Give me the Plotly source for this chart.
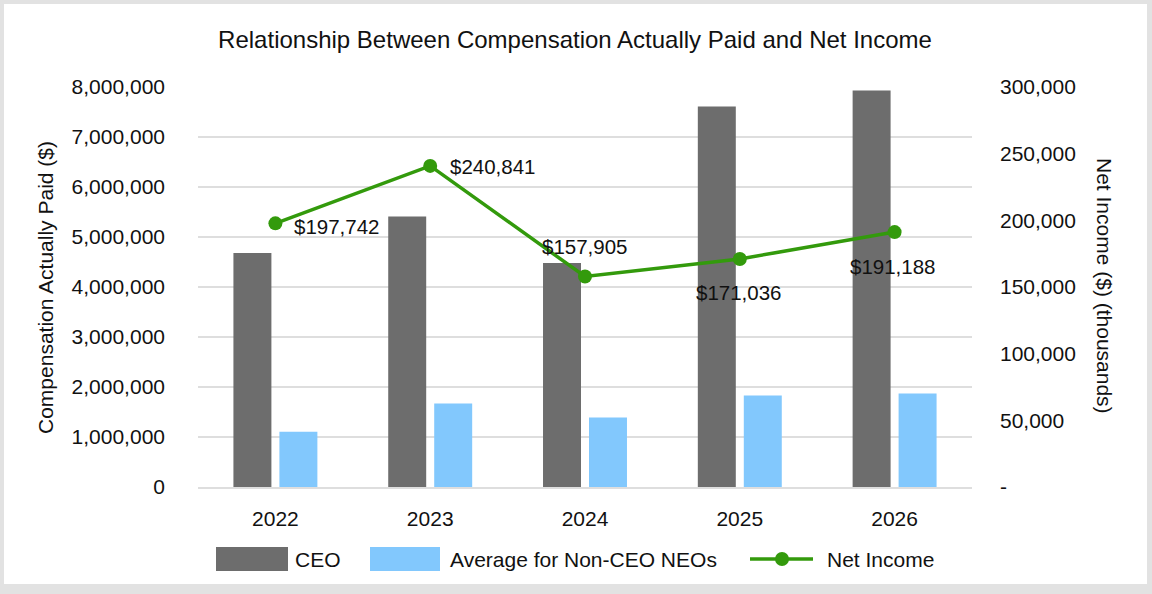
import plotly.graph_objects as go

years = ["2022", "2023", "2024", "2025", "2026"]
ceo_cap = [4680000, 5410000, 4480000, 7610000, 7930000]
neo_avg_cap = [1105000, 1670000, 1390000, 1830000, 1870000]
net_income = [197742, 240841, 157905, 171036, 191188]

left_ticks = [0, 1000000, 2000000, 3000000, 4000000, 5000000, 6000000, 7000000, 8000000]
left_ticktext = ["0", "1,000,000", "2,000,000", "3,000,000", "4,000,000", "5,000,000",
                 "6,000,000", "7,000,000", "8,000,000"]
right_ticks = [0, 50000, 100000, 150000, 200000, 250000, 300000]
right_ticktext = ["-", "50,000", "100,000", "150,000", "200,000", "250,000", "300,000"]

FONT = "Liberation Sans, Arial, Helvetica, sans-serif"
CEO_COLOR = "#6d6d6d"
NEO_COLOR = "#82c8fd"
NI_COLOR = "#339a0c"
GRID = "#dedede"

W, H = 1152, 594
ML, MR, MT, MB = 198, 180, 87, 107
PW, PH = W - ML - MR, H - MT - MB


def px(x):
    return (x - ML) / PW


def py(y):
    return (H - MB - y) / PH


fig = go.Figure()
fig.add_trace(go.Bar(x=years, y=ceo_cap, name="CEO", marker=dict(color=CEO_COLOR, line=dict(width=0)),
                     showlegend=False))
fig.add_trace(go.Bar(x=years, y=neo_avg_cap, name="Average for Non-CEO NEOs",
                     marker=dict(color=NEO_COLOR, line=dict(width=0)), showlegend=False))
fig.add_trace(go.Scatter(x=years, y=net_income, name="Net Income", yaxis="y2", mode="lines+markers",
                         line=dict(color=NI_COLOR, width=3.5), marker=dict(color=NI_COLOR, size=14),
                         showlegend=False))

# data labels (x given as category index)
label_pos = [
    dict(xanchor="left", yanchor="middle", xshift=17, yshift=-3),
    dict(xanchor="left", yanchor="middle", xshift=18, yshift=-1),
    dict(xanchor="center", yanchor="middle", xshift=0, yshift=30),
    dict(xanchor="center", yanchor="middle", xshift=-1, yshift=-34),
    dict(xanchor="center", yanchor="middle", xshift=-2, yshift=-34),
]
annotations = []
for i, (v, p) in enumerate(zip(net_income, label_pos)):
    annotations.append(dict(x=i, y=v, xref="x", yref="y2", text=f"${v:,}", showarrow=False,
                            font=dict(family=FONT, size=20.5, color="#111111"), **p))

# axis titles
annotations.append(dict(x=px(45), y=py(288), xref="paper", yref="paper", text="Compensation Actually Paid ($)",
                        textangle=-90, showarrow=False, xanchor="center", yanchor="middle",
                        font=dict(family=FONT, size=21, color="#111111")))
annotations.append(dict(x=px(1105), y=py(286), xref="paper", yref="paper", text="Net Income ($) (thousands)",
                        textangle=90, showarrow=False, xanchor="center", yanchor="middle",
                        font=dict(family=FONT, size=21, color="#111111")))

# legend (custom, drawn to match the reference's large swatches)
legend_y = 559
annotations += [
    dict(x=px(293), y=py(legend_y), xref="paper", yref="paper", text="CEO", showarrow=False,
         xanchor="left", yanchor="middle", font=dict(family=FONT, size=21, color="#111111")),
    dict(x=px(448), y=py(legend_y), xref="paper", yref="paper", text="Average for Non-CEO NEOs", showarrow=False,
         xanchor="left", yanchor="middle", font=dict(family=FONT, size=21, color="#111111")),
    dict(x=px(825), y=py(legend_y), xref="paper", yref="paper", text="Net Income", showarrow=False,
         xanchor="left", yanchor="middle", font=dict(family=FONT, size=21, color="#111111")),
]

shapes = [
    # outer light-gray frame
    dict(type="rect", xref="paper", yref="paper", x0=px(0), x1=px(W), y0=py(H), y1=py(0),
         line=dict(width=0), fillcolor="#e2e2e2", layer="below"),
    dict(type="rect", xref="paper", yref="paper", x0=px(4), x1=px(1147), y0=py(584), y1=py(4),
         line=dict(width=0), fillcolor="white", layer="below"),
    # legend swatches
    dict(type="rect", xref="paper", yref="paper", x0=px(216), x1=px(288), y0=py(571), y1=py(547),
         line=dict(width=0), fillcolor=CEO_COLOR),
    dict(type="rect", xref="paper", yref="paper", x0=px(370), x1=px(440), y0=py(571), y1=py(547),
         line=dict(width=0), fillcolor=NEO_COLOR),
    dict(type="line", xref="paper", yref="paper", x0=px(750), x1=px(813), y0=py(legend_y), y1=py(legend_y),
         line=dict(width=3.5, color=NI_COLOR)),
    dict(type="circle", xref="paper", yref="paper", x0=px(775), x1=px(789), y0=py(legend_y + 7),
         y1=py(legend_y - 7), line=dict(width=0), fillcolor=NI_COLOR),
]

fig.update_layout(
    width=W, height=H,
    margin=dict(l=ML, r=MR, t=MT, b=MB, pad=0),
    paper_bgcolor="#e2e2e2", plot_bgcolor="rgba(0,0,0,0)",
    barmode="group", bargap=0.406, bargroupgap=0.174,
    title=dict(text="Relationship Between Compensation Actually Paid and Net Income",
               x=px(575), xref="paper", xanchor="center", y=1 - 40 / H, yanchor="middle",
               font=dict(family=FONT, size=24, color="#111111")),
    font=dict(family=FONT, size=21, color="#111111"),
    xaxis=dict(type="category", autotypenumbers="strict", range=[-0.5, len(years) - 0.5],
               showgrid=False, showline=True, linecolor=GRID, linewidth=1.5, ticks="",
               tickfont=dict(size=21), ticklabelstandoff=12),
    yaxis=dict(range=[0, 8000000], tickvals=left_ticks, ticktext=left_ticktext, showgrid=True,
               gridcolor=GRID, gridwidth=1.5, zeroline=False, showline=False, ticks="",
               tickfont=dict(size=21), ticklabelstandoff=32),
    yaxis2=dict(range=[0, 300000], tickvals=right_ticks, ticktext=right_ticktext, overlaying="y",
                side="right", showgrid=False, zeroline=False, showline=False, ticks="",
                tickfont=dict(size=21), ticklabelstandoff=27),
    annotations=annotations,
    shapes=shapes,
    showlegend=False,
)

fig.write_html("out.html")
